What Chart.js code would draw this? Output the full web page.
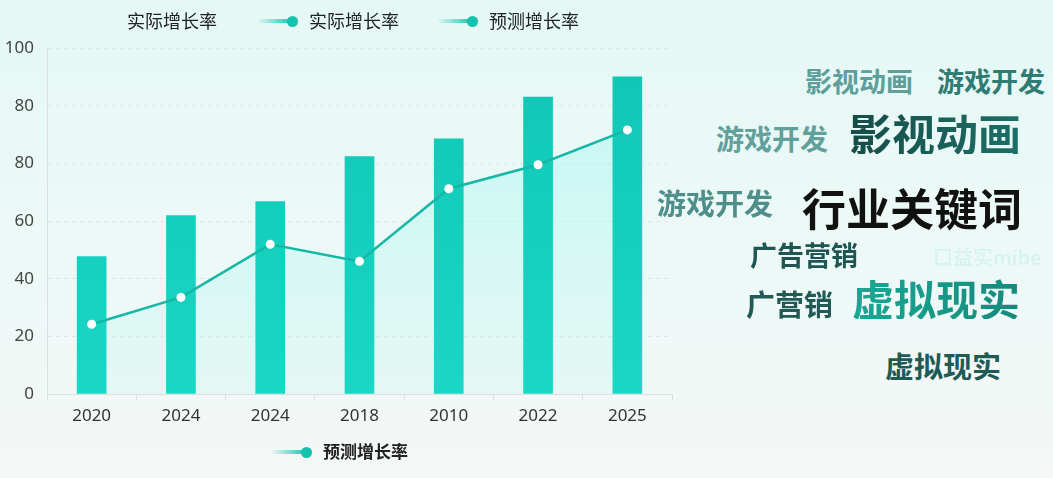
<!DOCTYPE html>
<html>
<head>
<meta charset="utf-8">
<script src="https://cdn.jsdelivr.net/npm/chart.js@4"></script>
<style>
  html, body { margin: 0; padding: 0; }
  body {
    width: 1053px; height: 478px; overflow: hidden; position: relative;
    background: linear-gradient(180deg, #e4f8f5 0%, #edf9f7 55%, #f4f7f6 100%);
    font-family: "Noto Sans CJK SC", "Noto Sans", sans-serif;
  }
  #chartBox { position: absolute; left: 0; top: 0; width: 690px; height: 478px; }
  .lg { position: absolute; font-size: 18px; color: #222; line-height: 24px; white-space: nowrap; }
  .mk { position: absolute; height: 4px; border-radius: 2px;
        background: linear-gradient(90deg, rgba(26,200,180,0) 0%, #1cc6b2 100%); }
  .dot { position: absolute; width: 11px; height: 11px; border-radius: 50%; background: #14c2ad; }
  .w { position: absolute; font-weight: 700; white-space: nowrap; line-height: 1; }
</style>
</head>
<body>
<div id="chartBox"><canvas id="myChart"></canvas></div>
<div id="overlay"></div>
<script>
const categories = ["2020", "2024", "2024", "2018", "2010", "2022", "2025"];
const actualRate = [47.7, 61.9, 66.7, 82.3, 88.5, 103, 110];
const forecastRate = [24.2, 33.5, 51.9, 46, 71.2, 79.5, 91.6];
const yTickLabels = ["0", "20", "40", "60", "80", "80", "100"];
const cloudWords = ["影视动画", "游戏开发", "游戏开发", "影视动画", "游戏开发", "行业关键词",
                    "广告营销", "广营销", "虚拟现实", "虚拟现实"];

// where each word goes: x, centre y, font size, colour
const cloudLayout = [
  [805, 82, 27, "#5f9f9b"],
  [937, 82, 27, "#2f7c75"],
  [716, 140, 28, "#62a09c"],
  [849, 135, 43, "linear-gradient(90deg,#164d48,#1d6f67)"],
  [657, 204, 29, "#4f8f8b"],
  [802, 210, 44, "#111"],
  [750, 256, 27, "#1f5651"],
  [746, 305, 29, "#225a55"],
  [852, 301, 42, "linear-gradient(90deg,#18a893,#158a7d)"],
  [885, 367, 29, "#1f5a55"]
];

const overlay = document.getElementById("overlay");

// x is the centre of the legend dot
function addLegend(x, y, text, withMarker, bold) {
  let tx = x;
  if (withMarker) {
    const mk = document.createElement("div");
    mk.className = "mk";
    mk.style.left = (x - 35) + "px";
    mk.style.top = (y - 2) + "px";
    mk.style.width = "34px";
    overlay.appendChild(mk);
    const dot = document.createElement("div");
    dot.className = "dot";
    dot.style.left = (x - 5.5) + "px";
    dot.style.top = (y - 5.5) + "px";
    overlay.appendChild(dot);
    tx = x + 17;
  }
  const t = document.createElement("div");
  t.className = "lg";
  t.textContent = text;
  t.style.left = tx + "px";
  t.style.top = (y - 13) + "px";
  if (bold) { t.style.fontWeight = "700"; t.style.fontSize = "17px"; }
  overlay.appendChild(t);
}

addLegend(127, 21, "实际增长率", false);
addLegend(292, 21, "实际增长率", true);
addLegend(472, 21, "预测增长率", true);
addLegend(306, 452, "预测增长率", true, true);

cloudWords.forEach(function (word, i) {
  const l = cloudLayout[i];
  const el = document.createElement("div");
  el.className = "w";
  el.textContent = word;
  el.style.left = l[0] + "px";
  el.style.top = (l[1] - l[2] / 2 - l[2] * 0.06) + "px";
  el.style.fontSize = l[2] + "px";
  if (l[3].indexOf("gradient") >= 0) {
    el.style.background = l[3];
    el.style.webkitBackgroundClip = "text";
    el.style.backgroundClip = "text";
    el.style.color = "transparent";
  } else {
    el.style.color = l[3];
  }
  overlay.appendChild(el);
});

// faint reflected word on the far right
const ghost = document.createElement("div");
ghost.className = "w";
ghost.textContent = "口益实mibe";
ghost.style.left = "933px";
ghost.style.top = "247px";
ghost.style.fontSize = "20px";
ghost.style.fontWeight = "500";
ghost.style.color = "rgba(130,225,215,0.22)";
overlay.appendChild(ghost);

window.addEventListener("load", function () {
  const ctx = document.getElementById("myChart");
  myChart = new Chart(ctx, {
    data: {
      labels: categories,
      datasets: [
        {
          type: "line",
          label: "预测增长率",
          data: forecastRate,
          borderColor: "#15b8a4",
          borderWidth: 2.5,
          pointBackgroundColor: "#ffffff",
          pointBorderColor: "#ffffff",
          pointRadius: 4.5,
          pointBorderWidth: 0,
          tension: 0,
          fill: "origin",
          backgroundColor: function (c) {
            const area = c.chart.chartArea;
            if (!area) return "rgba(180,245,240,0.5)";
            const g = c.chart.ctx.createLinearGradient(0, area.top, 0, area.bottom);
            g.addColorStop(0, "rgba(160,245,238,0.55)");
            g.addColorStop(1, "rgba(205,248,244,0.35)");
            return g;
          },
          order: 0,
        },
        {
          type: "bar",
          label: "实际增长率",
          data: actualRate,
          barThickness: 29,
          backgroundColor: function (c) {
            const area = c.chart.chartArea;
            if (!area) return "#12c9b5";
            const g = c.chart.ctx.createLinearGradient(0, area.top, 0, area.bottom);
            g.addColorStop(0, "#0fc6b3");
            g.addColorStop(1, "#1bd7c6");
            return g;
          },
          order: 1,
        },
      ],
    },
    options: {
      responsive: true,
      maintainAspectRatio: false,
      animation: false,
      layout: { padding: { left: 0, right: 18, top: 48, bottom: 49 } },
      plugins: {
        legend: { display: false },
        tooltip: { enabled: false },
        filler: { drawTime: "beforeDatasetsDraw" },
      },
      scales: {
        x: {
          afterFit: function (scale) { scale.height = 35; },
          grid: { drawOnChartArea: false, drawTicks: true, tickLength: 6, color: "#dcdfdf" },
          border: { color: "#dcdfdf" },
          ticks: { color: "#333", font: { size: 17, family: "Noto Sans" }, padding: 6 },
        },
        y: {
          min: 0,
          max: 120,
          afterFit: function (scale) { scale.width = 47; },
          ticks: {
            stepSize: 20,
            color: "#444",
            padding: 13,
            font: { size: 17, family: "Noto Sans" },
            callback: function (v, i) { return yTickLabels[i]; },
          },
          grid: { drawTicks: false, color: "#e0e7e6" },
          border: { color: "#dcdfdf", dash: [4, 4] },
        },
      },
    },
  });
});
</script>
</body>
</html>
